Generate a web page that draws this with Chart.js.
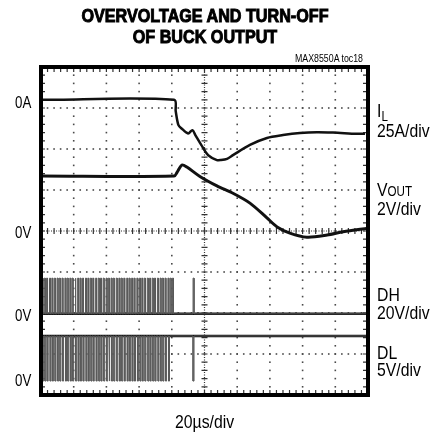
<!DOCTYPE html>
<html>
<head>
<meta charset="utf-8">
<script src="https://cdn.jsdelivr.net/npm/chart.js@4.4.1/dist/chart.umd.min.js"></script>
<style>
  html, body { margin: 0; padding: 0; background: #fff; }
  #wrap { position: relative; width: 432px; height: 435px; overflow: hidden;
          font-family: "Liberation Sans", Arial, sans-serif; color: #000; }
  #wrap canvas { position: absolute; left: 0; top: 0; }
  .lbl { position: absolute; white-space: nowrap; line-height: 1; transform: scaleX(0.83); transform-origin: 0 0; }
  .left { font-size: 16px; left: 15px; }
  .right { font-size: 19px; left: 377px; }
  .sm { font-size: 14px; }
  #title { position: absolute; left: 0; top: 5px; width: 410px; text-align: center;
           font-size: 19px; line-height: 21px; font-weight: bold; -webkit-text-stroke: 1px #000;
           transform: scaleX(0.85); transform-origin: 205px 0; }
  #toc { position: absolute; left: 295px; top: 53px; font-size: 11px; line-height: 1;
         transform: scaleX(0.8); transform-origin: 0 0; }
</style>
</head>
<body>
<div id="wrap">
  <canvas id="scope" width="432" height="435"></canvas>
  <div id="title">OVERVOLTAGE AND TURN-OFF<br>OF BUCK OUTPUT</div>
  <div id="toc">MAX8550A toc18</div>

  <div class="lbl left" style="top:95px">0A</div>
  <div class="lbl left" style="top:225px">0V</div>
  <div class="lbl left" style="top:308px">0V</div>
  <div class="lbl left" style="top:373px">0V</div>

  <div class="lbl right" style="top:101px">I<span class="sm" style="position:relative;top:4px">L</span></div>
  <div class="lbl right" style="top:121px">25A/div</div>
  <div class="lbl right" style="top:180px">V<span class="sm">OUT</span></div>
  <div class="lbl right" style="top:199px">2V/div</div>
  <div class="lbl right" style="top:285px">DH</div>
  <div class="lbl right" style="top:303px">20V/div</div>
  <div class="lbl right" style="top:343px">DL</div>
  <div class="lbl right" style="top:360px">5V/div</div>

  <div class="lbl" style="top:412px; left:175px; font-size:19px">20µs/div</div>
</div>
<script>
// time in divisions (20us/div), levels in screen divisions (0 = bottom, 8 = top)
const ilTime = [0, 4.07, 4.12, 4.20, 4.30, 4.50, 4.63, 4.72, 4.90, 5.11, 5.38, 5.50, 5.69, 5.87, 6.39, 6.91, 7.40, 7.92, 8.44, 8.93, 9.66, 9.91];
const ilDiv  = [7.20, 7.20, 6.92, 6.59, 6.50, 6.38, 6.46, 6.34, 6.10, 5.85, 5.73, 5.73, 5.76, 5.85, 6.10, 6.27, 6.34, 6.39, 6.41, 6.40, 6.37, 6.37];

const voutTime = [0, 4.07, 4.16, 4.31, 4.46, 4.86, 5.38, 5.87, 6.39, 6.91, 7.22, 7.61, 8.13, 8.75, 9.24, 10];
const voutDiv  = [5.34, 5.34, 5.43, 5.61, 5.56, 5.33, 5.10, 4.92, 4.68, 4.32, 4.10, 3.95, 3.85, 3.90, 3.98, 4.07];

// DH: rests at 0V, pulses high; DL: rests high, pulses to 0V
const dhLow = 1.98, dhHigh = 2.85;
const dlHigh = 1.44, dlLow = 0.34;
const dhPulses = [0.03, 0.10, 0.17, 0.26, 0.33, 0.41, 0.49, 0.56, 0.64, 0.73, 0.80, 0.88, 0.95, 1.04, 1.12, 1.19, 1.27, 1.36,
                  1.43, 1.51, 1.58, 1.67, 1.75, 1.82, 1.90, 1.99, 2.06, 2.14, 2.21, 2.30, 2.38, 2.45, 2.53, 2.62, 2.69, 2.77,
                  2.84, 2.93, 3.01, 3.08, 3.16, 3.25, 3.32, 3.40, 3.47, 3.56, 3.64, 3.71, 3.79, 3.88, 3.95, 4.02, 4.65];
const dlPulses = [0.05, 0.12, 0.19, 0.28, 0.35, 0.43, 0.51, 0.58, 0.66, 0.75, 0.82, 0.90, 0.97, 1.06, 1.14, 1.21, 1.29, 1.38,
                  1.45, 1.53, 1.60, 1.69, 1.77, 1.84, 1.92, 2.01, 2.08, 2.16, 2.23, 2.32, 2.40, 2.47, 2.55, 2.64, 2.71, 2.79,
                  2.86, 2.95, 3.03, 3.10, 3.18, 3.27, 3.34, 3.42, 3.49, 3.58, 3.66, 3.73, 3.81, 3.90, 4.65];
const pulseWidth = 0.03;

function pairs(xs, ys) {
    return xs.map((t, i) => ({ x: t, y: ys[i] }));
}

function pulseTrain(times, rest, peak) {
    const pts = [{ x: 0, y: rest }];
    times.forEach(t => {
        pts.push({ x: t, y: rest }, { x: t, y: peak }, { x: t + pulseWidth, y: peak }, { x: t + pulseWidth, y: rest });
    });
    pts.push({ x: 10, y: rest });
    return pts;
}

// scope graticule: dotted divisions, ticked centre axes, ticked edges, heavy frame
const graticule = {
    id: 'graticule',
    beforeDatasetsDraw(chart) {
        const { ctx, chartArea: a, scales: { x, y } } = chart;
        ctx.save();
        ctx.fillStyle = '#4a4a4a';
        for (let i = 1; i < 10; i++) {
            if (i === 5) continue;
            const px = x.getPixelForValue(i);
            for (let k = 0; k <= 40; k++) ctx.fillRect(px - 0.8, y.getPixelForValue(k / 5) - 0.8, 1.6, 1.6);
        }
        for (let j = 1; j < 8; j++) {
            if (j === 4) continue;
            const py = y.getPixelForValue(j);
            for (let k = 0; k <= 50; k++) ctx.fillRect(x.getPixelForValue(k / 5) - 0.8, py - 0.8, 1.6, 1.6);
        }
        ctx.strokeStyle = '#333';
        ctx.lineWidth = 1.2;
        const cx = x.getPixelForValue(5), cy = y.getPixelForValue(4);
        ctx.setLineDash([1, 1.5]);
        ctx.beginPath();
        ctx.moveTo(cx, a.top); ctx.lineTo(cx, a.bottom);
        ctx.moveTo(a.left, cy); ctx.lineTo(a.right, cy);
        ctx.stroke();
        ctx.setLineDash([]);
        ctx.beginPath();
        for (let k = 1; k < 40; k++) {
            const py = y.getPixelForValue(k / 5);
            ctx.moveTo(cx - 3, py); ctx.lineTo(cx + 3, py);
            ctx.moveTo(a.left, py); ctx.lineTo(a.left + 4, py);
            ctx.moveTo(a.right - 5, py); ctx.lineTo(a.right, py);
        }
        for (let k = 1; k < 50; k++) {
            const px = x.getPixelForValue(k / 5);
            ctx.moveTo(px, cy - 3); ctx.lineTo(px, cy + 3);
            ctx.moveTo(px, a.top); ctx.lineTo(px, a.top + 5);
            ctx.moveTo(px, a.bottom - 5); ctx.lineTo(px, a.bottom);
        }
        ctx.stroke();
        ctx.restore();
    },
    afterDatasetsDraw(chart) {
        const { ctx, chartArea: a } = chart;
        ctx.save();
        ctx.strokeStyle = '#000';
        ctx.lineWidth = 4;
        ctx.strokeRect(a.left, a.top, a.right - a.left, a.bottom - a.top);
        ctx.restore();
    }
};

const ctx = document.getElementById('scope').getContext('2d');
const scopeChart = new Chart(ctx, {
    type: 'line',
    data: {
        datasets: [
            { label: 'IL', data: pairs(ilTime, ilDiv), borderColor: '#111', borderWidth: 2.5, tension: 0.3 },
            { label: 'VOUT', data: pairs(voutTime, voutDiv), borderColor: '#111', borderWidth: 3, tension: 0.3 },
            { label: 'DH', data: pulseTrain(dhPulses, dhLow, dhHigh), borderColor: '#5a5a5a', borderWidth: 1, tension: 0 },
            { label: 'DL', data: pulseTrain(dlPulses, dlHigh, dlLow), borderColor: '#5a5a5a', borderWidth: 1, tension: 0 },
            { label: 'DH base', data: [{ x: 0, y: dhLow }, { x: 10, y: dhLow }], borderColor: '#111', borderWidth: 2.5 },
            { label: 'DL base', data: [{ x: 0, y: dlHigh }, { x: 10, y: dlHigh }], borderColor: '#111', borderWidth: 2.5 }
        ]
    },
    options: {
        responsive: false,
        animation: false,
        devicePixelRatio: 1,
        layout: { padding: { left: 41, right: 64, top: 67, bottom: 40 } },
        elements: { point: { radius: 0 } },
        plugins: { legend: { display: false }, tooltip: { enabled: false } },
        scales: {
            x: { type: 'linear', min: 0, max: 10, display: false },
            y: { type: 'linear', min: 0, max: 8, display: false }
        }
    },
    plugins: [graticule]
});
</script>
</body>
</html>
